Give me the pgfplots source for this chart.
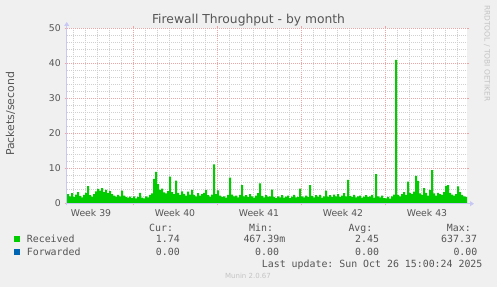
\documentclass[border=0pt]{standalone}
\usepackage{fontspec}
\setmainfont{DejaVu Sans}
\setmonofont{DejaVu Sans Mono}
\usepackage{pgfplots}
\pgfplotsset{compat=1.18}
\usetikzlibrary{arrows.meta}
\definecolor{bgcol}{HTML}{F0F0F0}
\definecolor{recv}{HTML}{00CC00}
\definecolor{fwd}{HTML}{0066B3}
\definecolor{majgrid}{RGB}{238,165,165}
\definecolor{mingrid}{RGB}{208,208,208}
\definecolor{axcol}{RGB}{200,200,245}
\definecolor{txt}{HTML}{555555}
\definecolor{faint}{HTML}{C4C4C4}
\begin{document}
\begin{tikzpicture}
\useasboundingbox (0bp,0bp) rectangle (497bp,287bp);
\fill[bgcol] (0bp,0bp) rectangle (497bp,287bp);
\begin{axis}[
  at={(67bp,83.7bp)}, anchor=south west,
  scale only axis, width=400bp, height=175bp,
  xmin=0, xmax=400, ymin=0, ymax=50,
  axis background/.style={fill=white},
  axis line style={draw=none},
  /pgf/number format/assume math mode=true,
  ticklabel style={font=\fontsize{9.3bp}{11bp}\selectfont, text=txt},
  xtick={66,150,234,318}, xticklabels={},
  minor xtick={6,18,30,42,54,78,90,102,114,126,138,162,174,186,198,210,222,246,258,270,282,294,306,330,342,354,366,378,390},
  extra x ticks={24,108,192,276,360},
  extra x tick labels={Week 39,Week 40,Week 41,Week 42,Week 43},
  extra x tick style={grid=none, major tick length=0pt,
     xticklabel style={anchor=base, inner sep=0pt, yshift=-13bp}},
  ytick={0,10,20,30,40,50},
  minor ytick={2,4,6,8,12,14,16,18,22,24,26,28,32,34,36,38,42,44,46,48},
  yticklabel style={anchor=east, inner sep=0pt, xshift=-4bp},
  grid=both,
  major grid style={color=majgrid, dash pattern=on 1bp off 1bp, line width=0.5bp},
  minor grid style={color=mingrid, dash pattern=on 1bp off 1bp, line width=0.5bp},
  major tick length=2bp, minor tick length=0pt,
  tick align=outside,
  major tick style={color=majgrid, line width=0.6bp},
  clip=true,
]
\addplot[const plot, fill=recv, draw=none] table {
x y
0 2.6
2 2.0
4 2.9
6 1.8
8 2.5
10 3.2
12 2.1
14 1.7
16 2.4
18 3.0
20 4.9
22 2.3
24 1.9
26 2.6
28 3.4
30 4.1
32 3.6
34 4.3
36 3.2
38 3.8
40 2.9
42 3.5
44 2.6
46 2.2
48 1.9
50 2.4
52 2.0
54 3.6
56 2.2
58 1.8
60 1.6
62 1.9
64 1.5
66 2.0
68 1.4
70 1.8
72 3.0
74 1.6
76 1.4
78 2.0
80 1.7
82 2.4
84 2.8
86 7.0
88 9.0
90 5.5
92 3.8
94 4.2
96 3.1
98 2.8
100 3.5
102 7.6
104 3.2
106 2.6
108 6.5
110 3.0
112 2.4
114 3.4
116 2.7
118 2.2
120 3.3
122 2.5
124 3.8
126 2.4
128 2.0
130 2.9
132 2.2
134 2.6
136 3.0
138 3.8
140 2.3
142 1.9
144 2.5
146 11.1
148 2.6
150 3.7
152 2.2
154 1.8
156 2.0
158 1.6
160 2.4
162 7.3
164 2.5
166 2.0
168 2.2
170 1.7
172 2.4
174 5.2
176 2.0
178 2.3
180 1.8
182 2.6
184 2.0
186 1.6
188 2.2
190 2.9
192 5.7
194 2.1
196 1.7
198 2.3
200 1.9
202 2.0
204 3.9
206 1.8
208 1.5
210 2.0
212 1.7
214 2.3
216 1.6
218 1.9
220 2.2
222 1.5
224 1.9
226 2.4
228 1.7
230 1.8
232 4.2
234 2.0
236 1.7
238 2.2
240 1.8
242 5.2
244 2.1
246 1.7
248 2.3
250 1.9
252 2.4
254 1.6
256 2.0
258 3.6
260 1.9
262 2.3
264 1.8
266 2.5
268 2.0
270 2.6
272 1.8
274 2.2
276 2.9
278 2.0
280 6.7
282 2.1
284 1.8
286 2.4
288 1.7
290 2.0
292 2.2
294 1.6
296 1.9
298 2.3
300 1.8
302 2.0
304 2.4
306 1.6
308 8.3
310 2.0
312 1.7
314 2.2
316 1.5
318 1.4
320 1.8
322 1.3
324 2.0
326 2.5
328 41.0
330 2.4
332 2.0
334 2.6
336 3.2
338 2.4
340 6.2
342 3.0
344 2.6
346 3.3
348 7.8
350 6.4
352 2.8
354 2.4
356 4.3
358 3.0
360 2.2
362 3.8
364 9.5
366 2.8
368 2.2
370 3.0
372 2.6
374 2.4
376 3.2
378 5.0
380 5.2
382 3.0
384 2.5
386 2.2
388 2.6
390 4.8
392 3.2
394 2.4
396 2.0
398 1.8
400 1.74
} \closedcycle;
\end{axis}
% axis lines with arrows
\draw[axcol, line width=0.8bp, -{Triangle[length=4bp,width=5bp]}] (67bp,83.3bp) -- (474bp,83.3bp);
\draw[axcol, line width=0.8bp, -{Triangle[length=4bp,width=5bp]}] (66.7bp,81.5bp) -- (66.7bp,265bp);
% title
\node[anchor=base, text=txt, font=\fontsize{12.3bp}{14bp}\selectfont, inner sep=0pt] at (248.5bp,263.7bp) {Firewall Throughput - by month};
% y label
\node[rotate=90, text=txt, font=\fontsize{10.9bp}{13bp}\selectfont, inner sep=0pt] at (10.5bp,173bp) {Packets/second};
% right vertical credit
\node[rotate=-90, text=faint, font=\fontsize{7.5bp}{9bp}\selectfont, inner sep=0pt] at (487bp,233.7bp) {RRDTOOL / TOBI OETIKER};
% legend
\begin{scope}[every node/.style={anchor=base west, inner sep=0pt, text=txt, font=\ttfamily\fontsize{9.9bp}{12bp}\selectfont}]
\node at (149bp,55.7bp) {Cur:};
\node at (249bp,55.7bp) {Min:};
\node at (348.3bp,55.7bp) {Avg:};
\node at (446.7bp,55.7bp) {Max:};
\fill[recv] (14bp,44.5bp) rectangle (20bp,50.5bp);
\node at (26.7bp,44bp) {Received};
\node at (155.7bp,44bp) {1.74};
\node at (243.3bp,44bp) {467.39m};
\node at (355bp,44bp) {2.45};
\node at (441bp,44bp) {637.37};
\fill[fwd] (14bp,32.3bp) rectangle (20bp,38.3bp);
\node at (26.7bp,31.8bp) {Forwarded};
\node at (155.7bp,31.8bp) {0.00};
\node at (255bp,31.8bp) {0.00};
\node at (355bp,31.8bp) {0.00};
\node at (453.3bp,31.8bp) {0.00};
\node at (261.7bp,19.8bp) {Last update: Sun Oct 26 15:00:24 2025};
\end{scope}
\node[anchor=base, inner sep=0pt, text=faint, font=\fontsize{7bp}{8bp}\selectfont] at (248bp,8.5bp) {Munin 2.0.67};
\end{tikzpicture}
\end{document}
